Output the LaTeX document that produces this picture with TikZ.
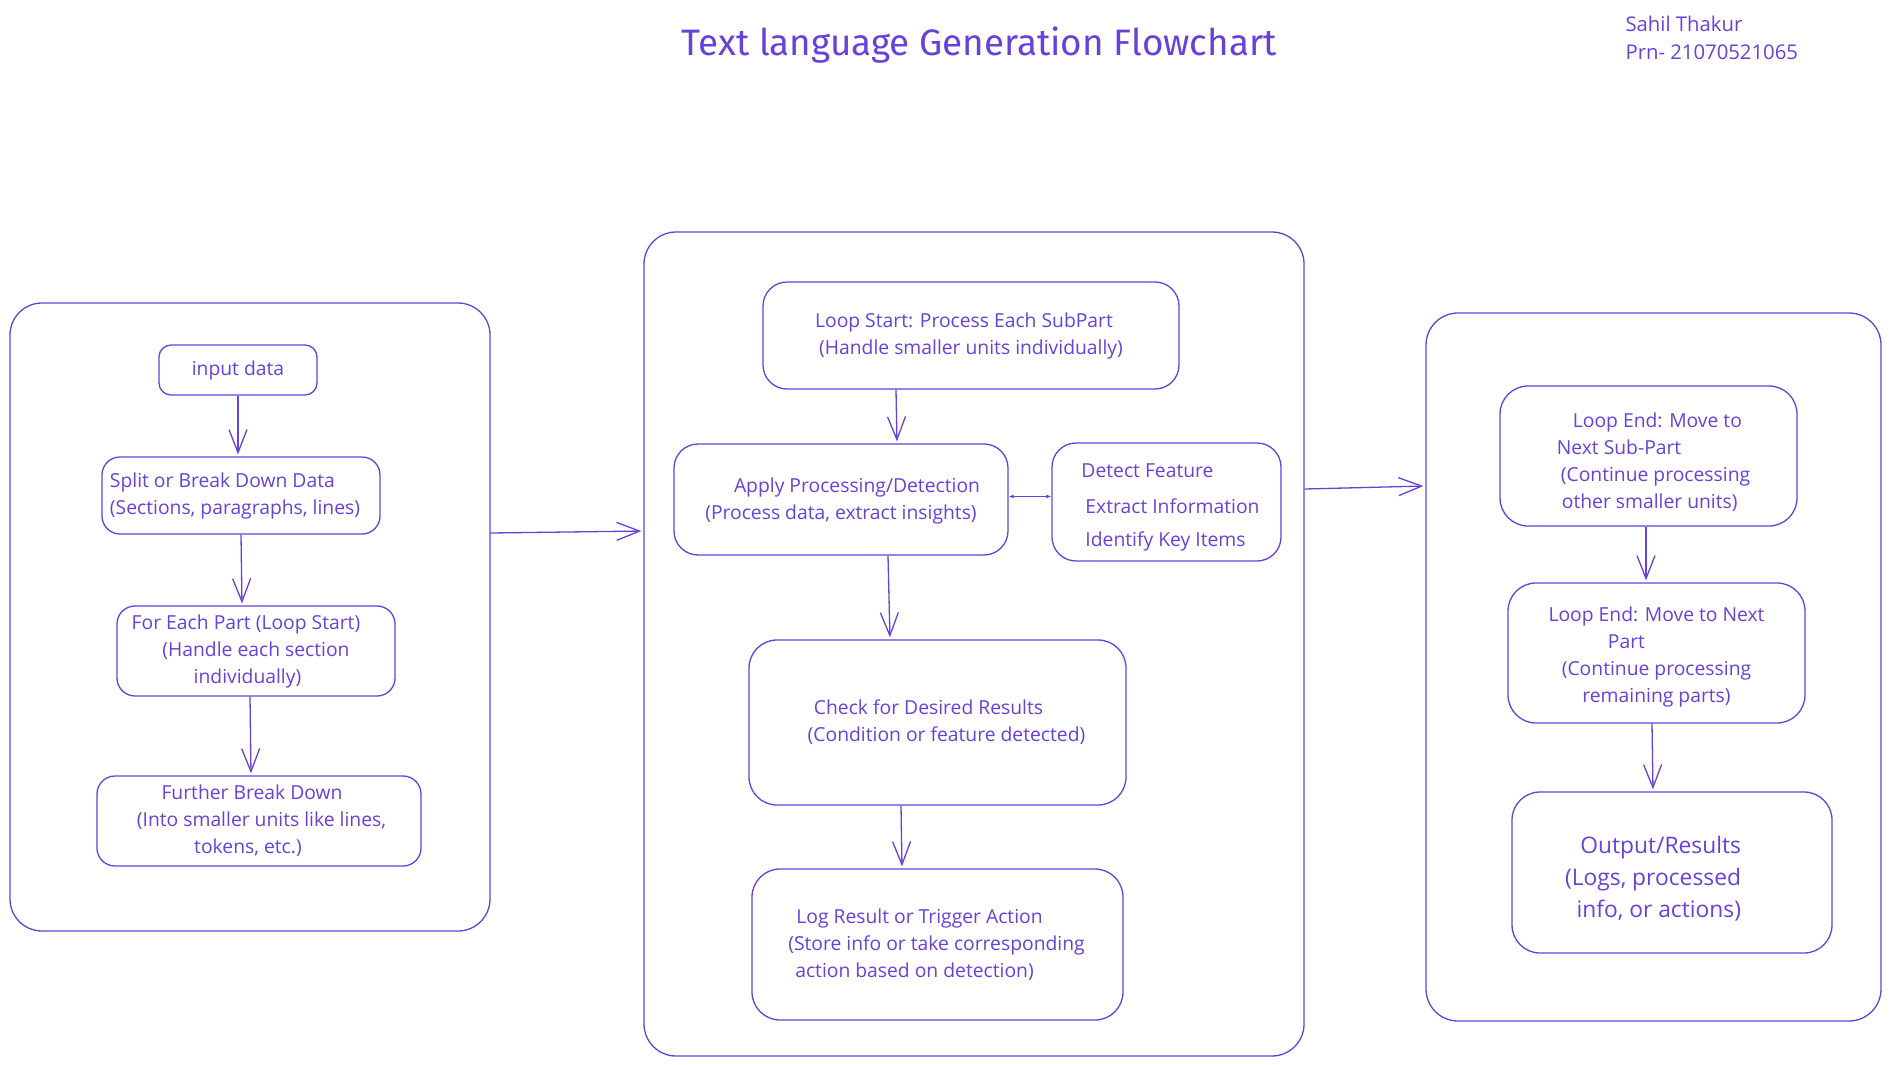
\documentclass[tikz,border=0pt]{standalone}
\usepackage{fontspec}
\setmainfont{Open Sans}
\newfontfamily\titlefont{Fira Sans}
\usetikzlibrary{arrows.meta}
\definecolor{vio}{HTML}{6741D9}
\newcommand\tsp[1]{\hspace*{#1}\mbox{}}
\tikzset{
  every node/.style={text=vio, font=\fontsize{19.3}{27}\selectfont},
  box/.style={draw=vio, line width=1.3pt, rounded corners=22pt, inner sep=0pt},
  cont/.style={draw=vio, line width=1.3pt, rounded corners=32pt, inner sep=0pt},
  arr/.style={draw=vio, line width=1.3pt, -{Straight Barb[length=23pt,width=18pt,line width=1.3pt]}, shorten >=2pt},
  dbl/.style={draw=vio, line width=1.3pt, {Latex[length=5pt,width=4pt]}-{Latex[length=5pt,width=4pt]}}
}
\begin{document}
\begin{tikzpicture}[x=1pt,y=-1pt]
\useasboundingbox[fill=white] (0,0) rectangle (1892,1065);

% title and author
\node[font=\titlefont\fontsize{36.8}{40}\selectfont] (title) at (979,45) {Text language Generation Flowchart};
\node[anchor=west, align=left, font=\fontsize{20.3}{27.5}\selectfont] (author) at (1622,38) {Sahil Thakur\\Prn- 21070521065};

% containers
\node[cont, minimum width=480pt, minimum height=628pt] (leftc) at (250,617) {};
\node[cont, minimum width=660pt, minimum height=824pt] (midc) at (974,644) {};
\node[cont, minimum width=455pt, minimum height=708pt] (rightc) at (1653.5,667) {};

% left boxes
\node[box, rounded corners=12pt, minimum width=158pt, minimum height=50pt] (input) at (238,370) {input data};
\node[box, rounded corners=18pt, minimum width=278pt, minimum height=77pt, align=left] (split) at (241,495.5) {Split or Break Down Data\\(Sections, paragraphs, lines)\tsp{12pt}};
\node[box, rounded corners=18pt, minimum width=278pt, minimum height=90pt, align=center] (foreach) at (256,651) {For Each Part (Loop Start)\tsp{20pt}\\(Handle each section\\individually)\tsp{17pt}};
\node[box, rounded corners=18pt, minimum width=324pt, minimum height=90pt, align=center] (further) at (259,821) {Further Break Down\tsp{14pt}\\\hspace*{5pt}(Into smaller units like lines,\\tokens, etc.)\tsp{22pt}};

% middle boxes
\node[box, rounded corners=24pt, minimum width=416pt, minimum height=107pt, align=center] (loopstart) at (971,335.5) {Loop Start: Process Each SubPart\tsp{14pt}\\(Handle smaller units individually)};
\node[box, rounded corners=24pt, minimum width=334pt, minimum height=111pt, align=center] (apply) at (841,499.5) {\rule{0pt}{18pt}\hspace*{32pt}Apply Processing/Detection\\(Process data, extract insights)};
\node[box, rounded corners=24pt, minimum width=229pt, minimum height=118pt, align=left] (detect) at (1166.5,502) {\rule{0pt}{24pt}\hspace*{8pt}Detect Feature\\[9pt]\hspace*{12pt}Extract Information\\[6pt]\hspace*{12pt}Identify Key Items};
\node[box, rounded corners=28pt, minimum width=377pt, minimum height=165pt, align=center] (check) at (937.5,722.5) {Check for Desired Results\tsp{18pt}\\\hspace*{18pt}(Condition or feature detected)};
\node[box, rounded corners=28pt, minimum width=371pt, minimum height=151pt, align=center] (log) at (937.5,944.5) {Log Result or Trigger Action\tsp{36pt}\\(Store info or take corresponding\tsp{2pt}\\action based on detection)\tsp{46pt}};

% right boxes
\node[box, rounded corners=28pt, minimum width=297pt, minimum height=140pt, align=left] (le1) at (1648.5,456) {\rule{0pt}{28pt}\hspace*{26pt}Loop End: Move to\\\hspace*{10pt}Next Sub-Part\\\hspace*{14pt}(Continue processing\\\hspace*{15pt}other smaller units)};
\node[box, rounded corners=28pt, minimum width=297pt, minimum height=140pt, align=center] (le2) at (1656.5,653) {\rule{0pt}{22pt}Loop End: Move to Next\\Part\tsp{60pt}\\(Continue processing\\remaining parts)};
\node[box, rounded corners=28pt, minimum width=320pt, minimum height=161pt, align=right, font=\fontsize{22.8}{32}\selectfont] (out) at (1672,872.5) {\rule{0pt}{29pt}Output/Results\tsp{38pt}\\(Logs, processed\tsp{38pt}\\info, or actions)\tsp{38pt}};

% connectors
\draw[arr] (input.south) -- (input.south |- split.north);
\draw[arr] (split.south) -- ([xshift=-14pt]foreach.north);
\draw[arr] ([xshift=-6pt]foreach.south) -- ([xshift=-8pt]further.north);
\draw[arr] ([yshift=84pt]leftc.east) -- ([yshift=113pt]midc.west);
\draw[arr] ([yshift=155pt]midc.east) -- ([yshift=181pt]rightc.west);
\draw[arr] ([xshift=-75pt]loopstart.south) -- ([xshift=56pt]apply.north);
\draw[dbl] ([yshift=3pt]apply.east) -- ([yshift=3pt]apply.east -| detect.west);
\draw[arr] ([xshift=47pt]apply.south) -- ([xshift=-47.5pt]check.north);
\draw[arr] ([xshift=-36.5pt]check.south) -- ([xshift=-35.5pt]log.north);
\draw[arr] ([xshift=-2.5pt]le1.south) -- ([xshift=-10.5pt]le2.north);
\draw[arr] ([xshift=-4.5pt]le2.south) -- ([xshift=-19pt]out.north);
\end{tikzpicture}
\end{document}
